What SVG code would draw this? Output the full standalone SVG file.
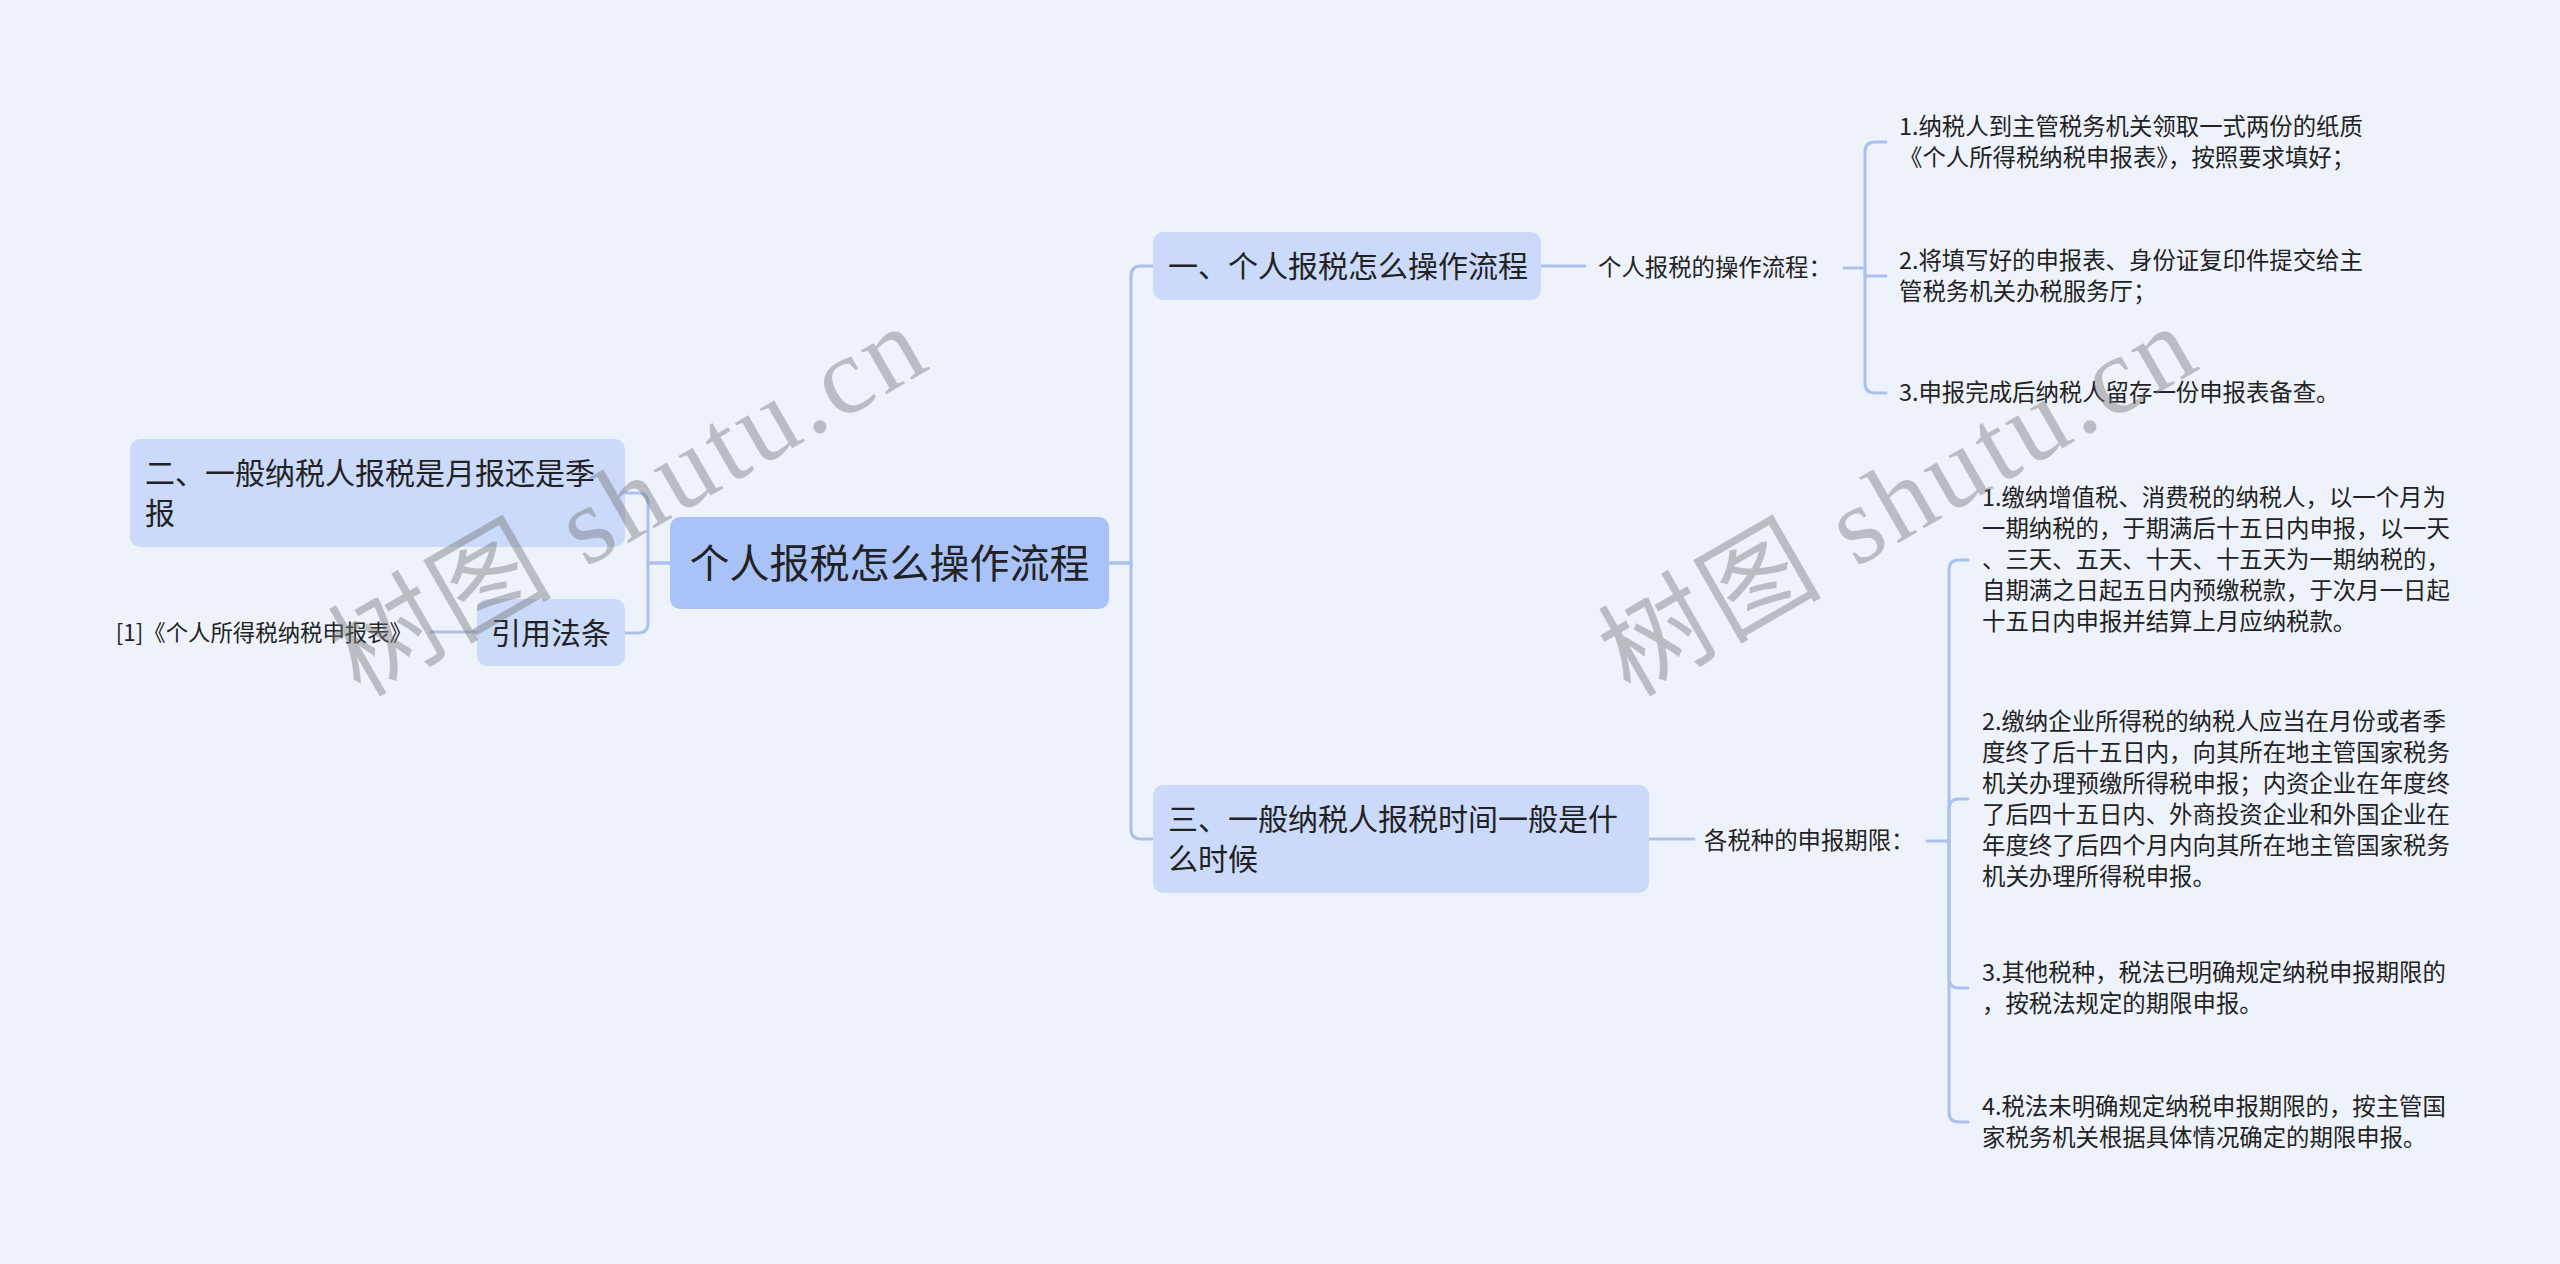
<svg xmlns="http://www.w3.org/2000/svg" width="2560" height="1264" viewBox="0 0 2560 1264">
<style>
.bg{fill:#eef3fb}
.root{fill:#a9c3f9}
.n1{fill:#cbdafb}
.t{font-family:"Noto Sans CJK SC","Noto Sans",sans-serif;fill:#222}
.t40{font-size:40px}
.t30{font-size:30px}
.t22{font-size:23.4px}
.t22s{font-size:22.4px}
.c{fill:none;stroke:#a9c1ee;stroke-width:3;stroke-linecap:round}
.wm{font-family:"Liberation Serif","Noto Sans CJK SC",serif;font-size:110px;fill:#777;opacity:0.44}
</style>
<rect class="bg" x="0" y="0" width="2560" height="1264"/>
<g id="connectors">
<path class="c" d="M1109,563 H1131 V276 Q1131,266 1141,266 H1153"/>
<path class="c" d="M1109,563 H1131 V829 Q1131,839 1141,839 H1153"/>
<path class="c" d="M670,563 H648 V503 Q648,493 638,493 H625"/>
<path class="c" d="M670,563 H648 V623 Q648,633 638,633 H625"/>
<path class="c" d="M477,632 H431"/>
<path class="c" d="M1541,266 H1585"/>
<path class="c" d="M1844,268 H1865"/>
<path class="c" d="M1865,268 V152 Q1865,142 1875,142 H1886"/>
<path class="c" d="M1865,268 V276 H1886"/>
<path class="c" d="M1865,268 V383 Q1865,393 1875,393 H1886"/>
<path class="c" d="M1649,839 H1694"/>
<path class="c" d="M1927,841 H1949"/>
<path class="c" d="M1949,841 V570 Q1949,560 1959,560 H1968"/>
<path class="c" d="M1949,841 V809 Q1949,799 1959,799 H1968"/>
<path class="c" d="M1949,841 V978 Q1949,988 1959,988 H1968"/>
<path class="c" d="M1949,841 V1112 Q1949,1122 1959,1122 H1968"/>
</g>
<g id="root">
<rect class="root" x="670" y="517" width="439" height="92" rx="10"/>
<text class="t t40" x="889.5" y="578" text-anchor="middle">个人报税怎么操作流程</text>
</g>
<g id="node-1">
<rect class="n1" x="1153" y="232" width="388" height="68" rx="10"/>
<text class="t t30" x="1168" y="277">一、个人报税怎么操作流程</text>
</g>
<g id="node-1-label">
<text class="t t22" x="1598" y="276">个人报税的操作流程：</text>
</g>
<g id="node-1-1">
<text class="t t22" x="1899" y="135">1.纳税人到主管税务机关领取一式两份的纸质</text>
<text class="t t22" x="1899" y="166">《个人所得税纳税申报表》，按照要求填好；</text>
</g>
<g id="node-1-2">
<text class="t t22" x="1899" y="269">2.将填写好的申报表、身份证复印件提交给主</text>
<text class="t t22" x="1899" y="300">管税务机关办税服务厅；</text>
</g>
<g id="node-1-3">
<text class="t t22" x="1899" y="401">3.申报完成后纳税人留存一份申报表备查。</text>
</g>
<g id="node-2">
<rect class="n1" x="130" y="439" width="495" height="108" rx="10"/>
<text class="t t30" x="145" y="484">二、一般纳税人报税是月报还是季</text>
<text class="t t30" x="145" y="524">报</text>
</g>
<g id="node-cite">
<rect class="n1" x="477" y="599" width="148" height="67" rx="10"/>
<text class="t t30" x="491" y="644">引用法条</text>
</g>
<g id="node-cite-1">
<text class="t t22s" x="412" y="641" text-anchor="end">[1]《个人所得税纳税申报表》</text>
</g>
<g id="node-3">
<rect class="n1" x="1153" y="785" width="496" height="108" rx="10"/>
<text class="t t30" x="1168" y="830">三、一般纳税人报税时间一般是什</text>
<text class="t t30" x="1168" y="870">么时候</text>
</g>
<g id="node-3-label">
<text class="t t22" x="1704" y="849">各税种的申报期限：</text>
</g>
<g id="node-3-1">
<text class="t t22" x="1982" y="506">1.缴纳增值税、消费税的纳税人，以一个月为</text>
<text class="t t22" x="1982" y="537">一期纳税的，于期满后十五日内申报，以一天</text>
<text class="t t22" x="1982" y="568">、三天、五天、十天、十五天为一期纳税的，</text>
<text class="t t22" x="1982" y="599">自期满之日起五日内预缴税款，于次月一日起</text>
<text class="t t22" x="1982" y="630">十五日内申报并结算上月应纳税款。</text>
</g>
<g id="node-3-2">
<text class="t t22" x="1982" y="730">2.缴纳企业所得税的纳税人应当在月份或者季</text>
<text class="t t22" x="1982" y="761">度终了后十五日内，向其所在地主管国家税务</text>
<text class="t t22" x="1982" y="792">机关办理预缴所得税申报；内资企业在年度终</text>
<text class="t t22" x="1982" y="823">了后四十五日内、外商投资企业和外国企业在</text>
<text class="t t22" x="1982" y="854">年度终了后四个月内向其所在地主管国家税务</text>
<text class="t t22" x="1982" y="885">机关办理所得税申报。</text>
</g>
<g id="node-3-3">
<text class="t t22" x="1982" y="981">3.其他税种，税法已明确规定纳税申报期限的</text>
<text class="t t22" x="1982" y="1012">，按税法规定的期限申报。</text>
</g>
<g id="node-3-4">
<text class="t t22" x="1982" y="1115">4.税法未明确规定纳税申报期限的，按主管国</text>
<text class="t t22" x="1982" y="1146">家税务机关根据具体情况确定的期限申报。</text>
</g>
<g id="watermarks">
<text class="wm" transform="translate(360,698) rotate(-30)" textLength="660" lengthAdjust="spacing">树图 shutu.cn</text>
<text class="wm" transform="translate(1630,698) rotate(-30)" textLength="660" lengthAdjust="spacing">树图 shutu.cn</text>
</g>
</svg>
